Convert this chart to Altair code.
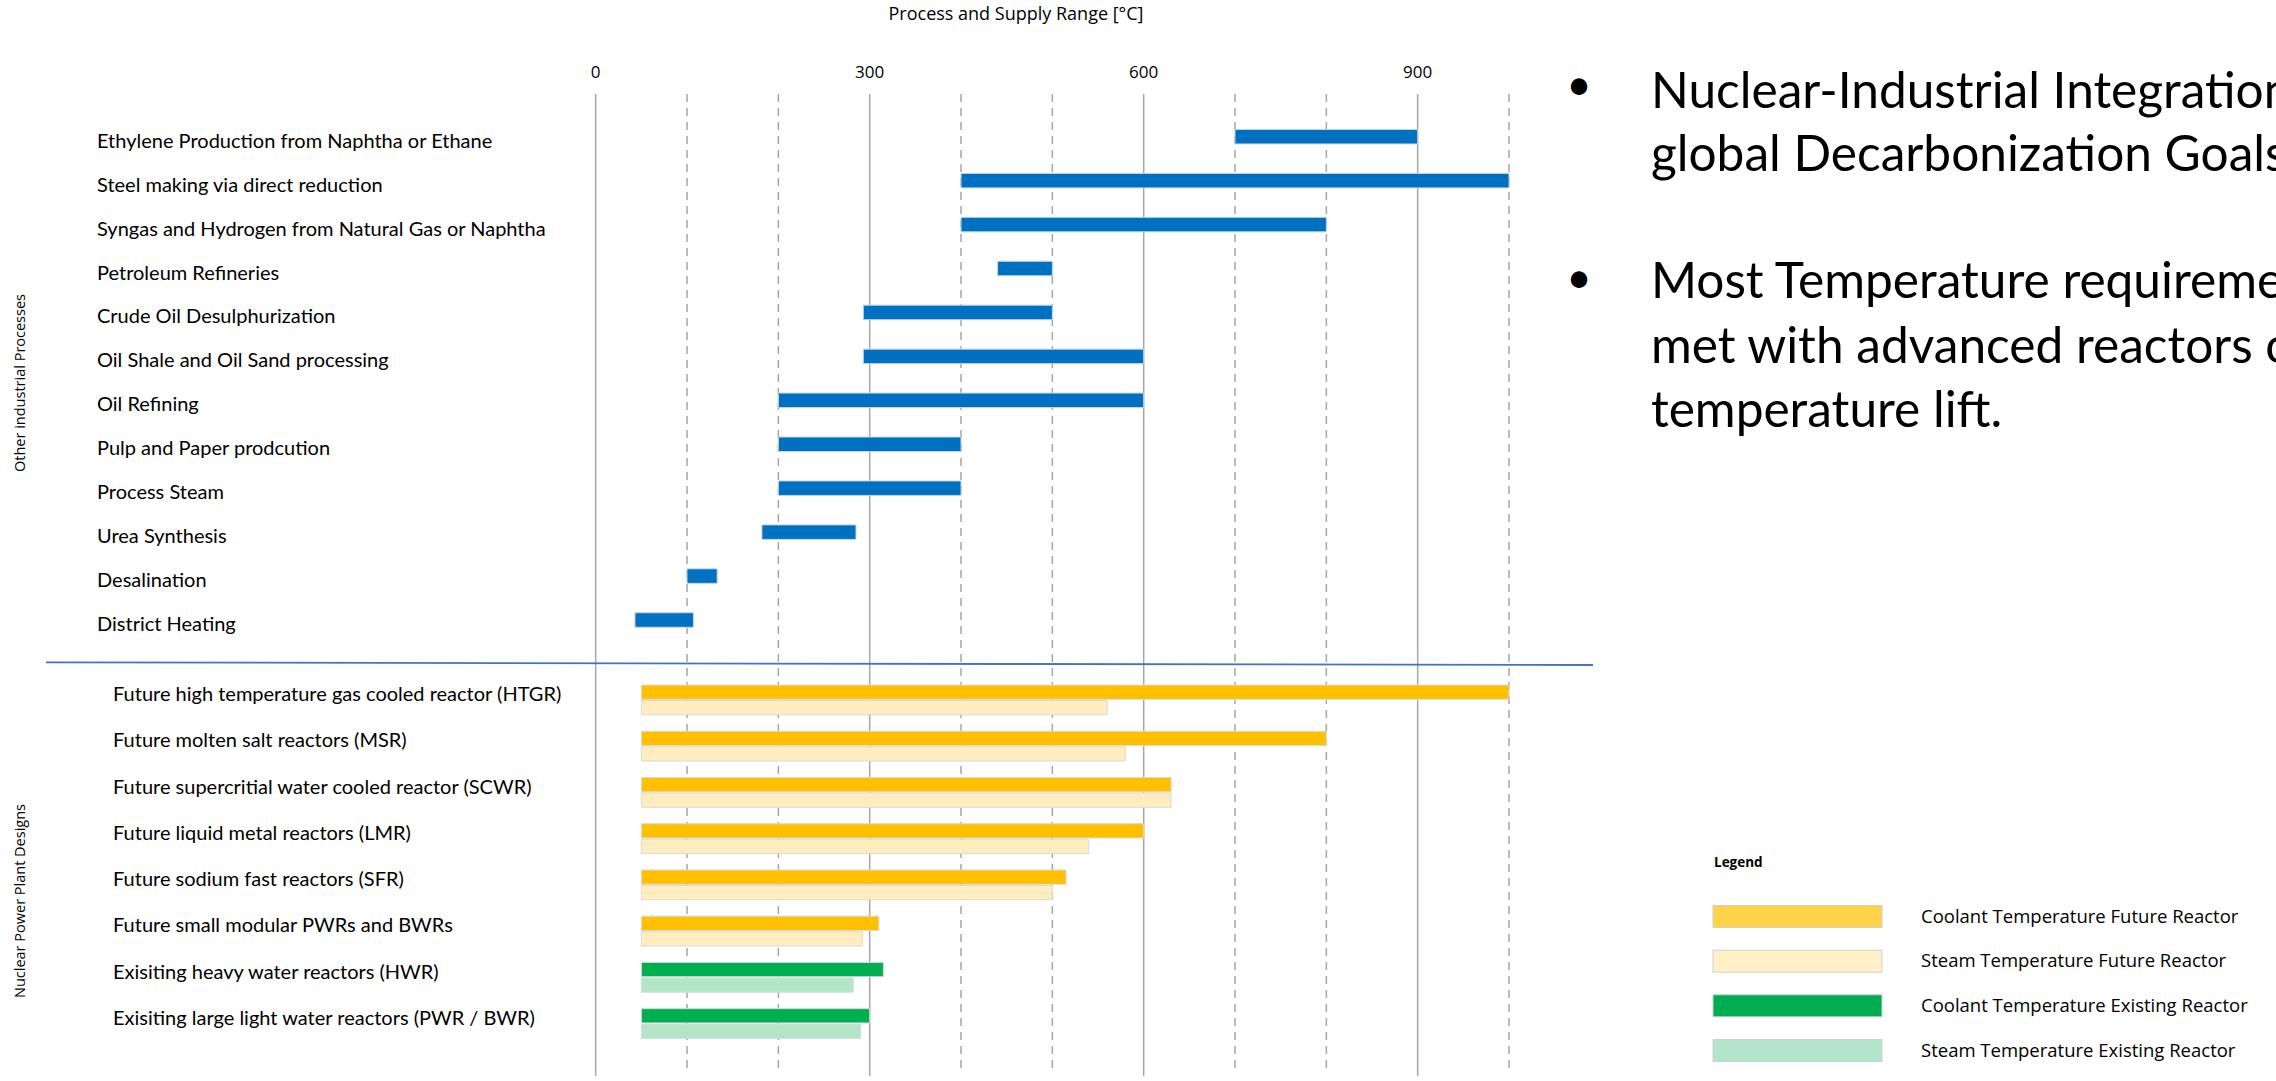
import altair as alt
import pandas as pd

# ---------------- data ----------------
proc_names = [
    "Ethylene Production from Naphtha or Ethane",
    "Steel making via direct reduction",
    "Syngas and Hydrogen from Natural Gas or Naphtha",
    "Petroleum Refineries",
    "Crude Oil Desulphurization",
    "Oil Shale and Oil Sand processing",
    "Oil Refining",
    "Pulp and Paper prodcution",
    "Process Steam",
    "Urea Synthesis",
    "Desalination",
    "District Heating",
]
proc_start = [700, 400, 400, 440, 293, 293, 200, 200, 200, 182, 100, 43]
proc_end = [900, 1000, 800, 500, 500, 600, 600, 400, 400, 285, 133, 107]

reactor_names = [
    "Future high temperature gas cooled reactor (HTGR)",
    "Future molten salt reactors (MSR)",
    "Future supercritial water cooled reactor (SCWR)",
    "Future liquid metal reactors (LMR)",
    "Future sodium fast reactors (SFR)",
    "Future small modular PWRs and BWRs",
    "Exisiting heavy water reactors (HWR)",
    "Exisiting large light water reactors (PWR / BWR)",
]
reactor_status = ["Future", "Future", "Future", "Future", "Future", "Future", "Existing", "Existing"]
reactor_start = [50, 50, 50, 50, 50, 50, 50, 50]
coolant_end = [1000, 800, 630, 600, 515, 310, 315, 300]
steam_end = [560, 580, 630, 540, 500, 292, 282, 290]

tick_values = [0, 300, 600, 900]
grid_solid = [0, 300, 600, 900]
grid_dashed = [100, 200, 400, 500, 700, 800, 1000]

legend_labels = [
    "Coolant Temperature Future Reactor",
    "Steam Temperature Future Reactor",
    "Coolant Temperature Existing Reactor",
    "Steam Temperature Existing Reactor",
]
legend_colors = ["#FFD347", "#FFF0C7", "#00AD50", "#B3E5CA"]

bullet1 = ["Nuclear-Industrial Integration", "global Decarbonization Goals"]
bullet2 = ["Most Temperature requirements", "met with advanced reactors or", "temperature lift."]

# ---------------- scales ----------------
x_scale = alt.Scale(domain=[0, 1000], range=[595.7, 1509])
proc_y = alt.Scale(type="point", domain=proc_names, range=[136.7, 620], padding=0)
reac_y = alt.Scale(type="point", domain=reactor_names, range=[692.2, 1015.8], padding=0)
steam_y = alt.Scale(type="point", domain=reactor_names, range=[707.7, 1031.3], padding=0)
leg_y = alt.Scale(type="point", domain=legend_labels, range=[916.5, 1050.5], padding=0)

LABEL_FONT = "Lato"
UI_FONT = "Open Sans"

proc_df = pd.DataFrame({"name": proc_names, "start": proc_start, "end": proc_end})
reac_df = pd.DataFrame({
    "name": reactor_names, "status": reactor_status, "start": reactor_start,
    "coolant": coolant_end, "steam": steam_end,
})

one = alt.Data(values=[{}])

def note(lines, x, y, size, font=UI_FONT, weight="normal", align="left",
         baseline="alphabetic", angle=0, line_height=None, color="#000000"):
    kw = dict(text=lines, font=font, fontSize=size, fontWeight=weight, align=align,
              baseline=baseline, angle=angle, color=color)
    if line_height is not None:
        kw["lineHeight"] = line_height
    return alt.Chart(one).mark_text(**kw).encode(x=alt.value(x), y=alt.value(y))

# ---------------- grid ----------------
solid = alt.Chart(pd.DataFrame({"v": grid_solid})).mark_rule(
    color="#A6A6A6", strokeWidth=1.5
).encode(x=alt.X("v:Q", scale=x_scale, axis=None), y=alt.value(94), y2=alt.value(1076))

dashed = alt.Chart(pd.DataFrame({"v": grid_dashed})).mark_rule(
    color="#A6A6A6", strokeWidth=1.5, strokeDash=[8, 6]
).encode(x=alt.X("v:Q", scale=x_scale, axis=None), y=alt.value(94), y2=alt.value(1072))

ticks = alt.Chart(pd.DataFrame({"v": tick_values})).mark_text(
    font=UI_FONT, fontSize=17, baseline="middle", align="center", color="#000000"
).encode(x=alt.X("v:Q", scale=x_scale, axis=None), y=alt.value(72.7), text="v:Q")

# ---------------- process bars ----------------
proc_bars = alt.Chart(proc_df).mark_bar(
    color="#0070C0", size=14.5, stroke="#C8D4E2", strokeWidth=1
).encode(
    x=alt.X("start:Q", scale=x_scale, axis=None),
    x2="end:Q",
    y=alt.Y("name:N", scale=proc_y, axis=None),
)
proc_labels = alt.Chart(proc_df).mark_text(
    font=LABEL_FONT, fontSize=20, align="left", baseline="middle", dy=5, color="#000000"
).encode(
    x=alt.value(97),
    y=alt.Y("name:N", scale=proc_y, axis=None),
    text="name:N",
)

# ---------------- reactor bars ----------------
coolant_bars = alt.Chart(reac_df).mark_bar(size=14.3, stroke="#D9D9D9", strokeWidth=1).encode(
    x=alt.X("start:Q", scale=x_scale, axis=None),
    x2="coolant:Q",
    y=alt.Y("name:N", scale=reac_y, axis=None),
    color=alt.Color("status:N", scale=alt.Scale(domain=["Future", "Existing"],
                                                range=["#FFC000", "#00B050"]), legend=None),
)
steam_bars = alt.Chart(reac_df).mark_bar(size=14.3, stroke="#D9D9D9", strokeWidth=1).encode(
    x=alt.X("start:Q", scale=x_scale, axis=None),
    x2="steam:Q",
    y=alt.Y("name:N", scale=steam_y, axis=None),
    color=alt.Color("status:N", scale=alt.Scale(domain=["Future", "Existing"],
                                                range=["#FFEDBF", "#B3E6C9"]), legend=None),
)
reac_labels = alt.Chart(reac_df).mark_text(
    font=LABEL_FONT, fontSize=20, align="left", baseline="middle", dy=3, color="#000000"
).encode(
    x=alt.value(113),
    y=alt.Y("name:N", scale=reac_y, axis=None),
    text="name:N",
)

separator = alt.Chart(one).mark_rule(color="#4472C4", strokeWidth=1.8).encode(
    x=alt.value(46), x2=alt.value(1593), y=alt.value(662.3), y2=alt.value(665)
)

# ---------------- legend ----------------
leg_df = pd.DataFrame({"label": legend_labels, "color": legend_colors})
leg_swatch = alt.Chart(leg_df).mark_bar(size=22, stroke="#CFCFCF", strokeWidth=1).encode(
    x=alt.value(1713), x2=alt.value(1882),
    y=alt.Y("label:N", scale=leg_y, axis=None),
    color=alt.Color("label:N", scale=alt.Scale(domain=legend_labels, range=legend_colors), legend=None),
)
leg_text = alt.Chart(leg_df).mark_text(
    font=UI_FONT, fontSize=18.5, align="left", baseline="middle", color="#000000"
).encode(
    x=alt.value(1921),
    y=alt.Y("label:N", scale=leg_y, axis=None),
    text="label:N",
)

# ---------------- annotations ----------------
title = note("Process and Supply Range [°C]", 1016, 15, 18, align="center", baseline="middle")
side1 = note("Other industrial Processes", 21, 383, 14.5, align="center", baseline="middle", angle=270)
side2 = note("Nuclear Power Plant Designs", 21, 901, 14.5, align="center", baseline="middle", angle=270)
leg_title = note("Legend", 1714, 863, 13.5, weight="bold", baseline="middle")
dot1 = note("•", 1579, 87, 44, font=LABEL_FONT, align="center", baseline="middle")
dot2 = note("•", 1579, 280, 44, font=LABEL_FONT, align="center", baseline="middle")
b1 = note(bullet1, 1651, 108, 49.6, font=LABEL_FONT, line_height=63)
b2 = note(bullet2, 1651, 298, 49.6, font=LABEL_FONT, line_height=64.5)

chart = alt.layer(
    solid, dashed, ticks, separator,
    proc_bars, proc_labels,
    coolant_bars, steam_bars, reac_labels,
    leg_swatch, leg_text,
    title, side1, side2, leg_title, dot1, dot2, b1, b2,
).resolve_scale(
    y="independent", color="independent"
).properties(
    width=2276, height=1081,
    autosize=alt.AutoSizeParams(type="none"),
    padding=0,
    background="#FFFFFF",
).configure_view(strokeWidth=0)

chart.save("out.html", embed_options={"renderer": "svg", "actions": False})
